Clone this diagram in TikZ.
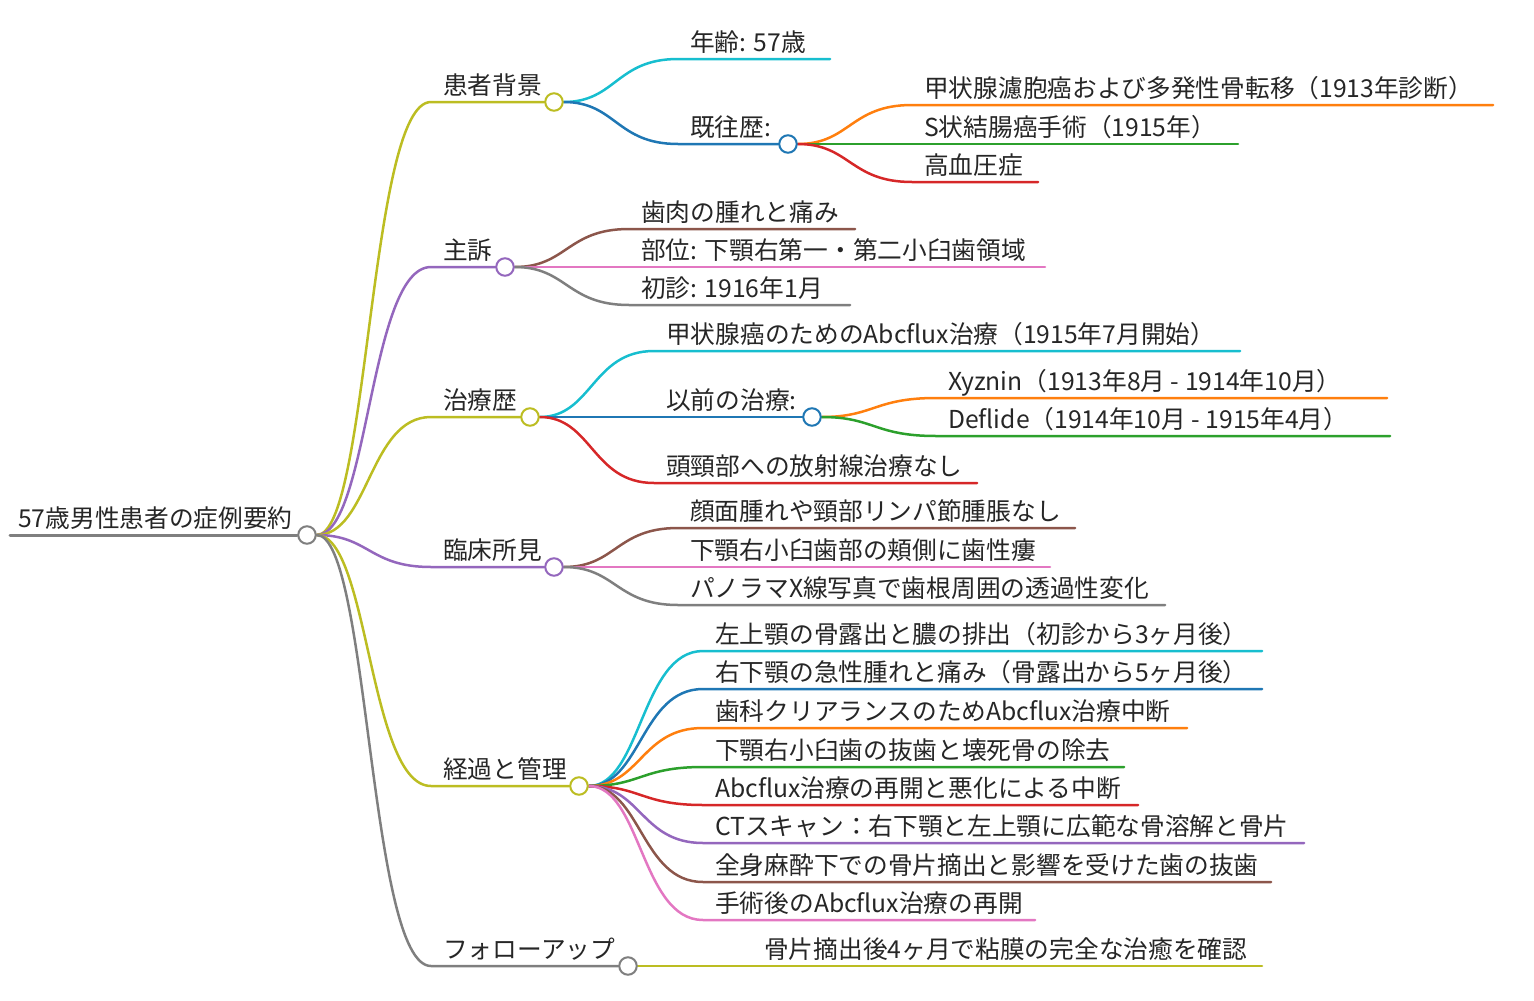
\documentclass[tikz,border=0pt]{standalone}
\usepackage{fontspec}
\newfontfamily\jp{Noto Sans CJK JP}
\usetikzlibrary{calc}
\pgfdeclarelayer{bg}
\pgfsetlayers{bg,main}
\definecolor{mblue}{HTML}{1F77B4}
\definecolor{morange}{HTML}{FF7F0E}
\definecolor{mgreen}{HTML}{2CA02C}
\definecolor{mred}{HTML}{D62728}
\definecolor{mpurple}{HTML}{9467BD}
\definecolor{mbrown}{HTML}{8C564B}
\definecolor{mpink}{HTML}{E377C2}
\definecolor{mgray}{HTML}{7F7F7F}
\definecolor{molive}{HTML}{BCBD22}
\definecolor{mcyan}{HTML}{17BECF}
\tikzset{
  lbl/.style={anchor=base west, inner sep=0pt, font=\jp\fontsize{24.7}{28}\selectfont, text=black!85},
  dot/.style={circle, draw=#1, fill=white, line width=2pt, minimum size=17.5pt, inner sep=0pt},
  lnk/.style={draw=#1, line width=2.5pt, line cap=round},
  mm/.style={to path={let \p1=(\tikztostart), \p2=(\tikztotarget) in
     .. controls ({(\x1+\x2)/2},\y1) and ({(\x1+\x2)/2},\y2) .. (\tikztotarget)}}
}
\begin{document}
\begin{tikzpicture}[x=1pt,y=-1pt]
\useasboundingbox (0,0) rectangle (1534,1001);
% ---------- root
\coordinate (r0s) at (10,535);
\node[dot=mgray] (r0) at (307,535) {};
\node[lbl] (r0t) at (18,527) {57歳男性患者の症例要約};
% ---------- level 1
\coordinate (As) at (431,102); \node[dot=molive] (A) at (554,102) {}; \node[lbl] (At) at (443,94) {患者背景};
\coordinate (Bs) at (431,267); \node[dot=mpurple] (B) at (505,267) {}; \node[lbl] (Bt) at (443,259) {主訴};
\coordinate (Cs) at (431,417); \node[dot=molive] (C) at (530,417) {}; \node[lbl] (Ct) at (443,409) {治療歴};
\coordinate (Ds) at (431,567); \node[dot=mpurple] (D) at (554,567) {}; \node[lbl] (Dt) at (443,559) {臨床所見};
\coordinate (Es) at (431,786); \node[dot=molive] (E) at (579,786) {}; \node[lbl] (Et) at (443,778) {経過と管理};
\coordinate (Fs) at (431,966); \node[dot=mgray] (F) at (628,966) {}; \node[lbl] (Ft) at (443,958) {フォローアップ};
% ---------- A children
\coordinate (A1s) at (678,59); \coordinate (A1e) at (830,59); \node[lbl] (A1t) at (690,51) {年齢: 57歳};
\coordinate (A2s) at (678,144); \node[dot=mblue] (A2) at (788,144) {}; \node[lbl] (A2t) at (690,136) {既往歴:};
\coordinate (A21s) at (912,105); \coordinate (A21e) at (1493,105); \node[lbl] (A21t) at (924,97) {甲状腺濾胞癌および多発性骨転移（1913年診断）};
\coordinate (A22s) at (912,144); \coordinate (A22e) at (1238,144); \node[lbl] (A22t) at (924,136) {S状結腸癌手術（1915年）};
\coordinate (A23s) at (912,182); \coordinate (A23e) at (1038,182); \node[lbl] (A23t) at (924,174) {高血圧症};
% ---------- B children
\coordinate (B1s) at (629,229); \coordinate (B1e) at (855,229); \node[lbl] (B1t) at (641,221) {歯肉の腫れと痛み};
\coordinate (B2s) at (629,267); \coordinate (B2e) at (1045,267); \node[lbl] (B2t) at (641,259) {部位: 下顎右第一・第二小臼歯領域};
\coordinate (B3s) at (629,305); \coordinate (B3e) at (850,305); \node[lbl] (B3t) at (641,297) {初診: 1916年1月};
% ---------- C children
\coordinate (C1s) at (654,351); \coordinate (C1e) at (1240,351); \node[lbl] (C1t) at (666,343) {甲状腺癌のためのAbcflux治療（1915年7月開始）};
\coordinate (C2s) at (654,417); \node[dot=mblue] (C2) at (812,417) {}; \node[lbl] (C2t) at (666,409) {以前の治療:};
\coordinate (C21s) at (936,398); \coordinate (C21e) at (1387,398); \node[lbl] (C21t) at (948,390) {Xyznin（1913年8月 - 1914年10月）};
\coordinate (C22s) at (936,436); \coordinate (C22e) at (1390,436); \node[lbl] (C22t) at (948,428) {Deflide（1914年10月 - 1915年4月）};
\coordinate (C3s) at (654,483); \coordinate (C3e) at (977,483); \node[lbl] (C3t) at (666,475) {頭頸部への放射線治療なし};
% ---------- D children
\coordinate (D1s) at (678,528); \coordinate (D1e) at (1075,528); \node[lbl] (D1t) at (690,520) {顔面腫れや頸部リンパ節腫脹なし};
\coordinate (D2s) at (678,567); \coordinate (D2e) at (1050,567); \node[lbl] (D2t) at (690,559) {下顎右小臼歯部の頬側に歯性瘻};
\coordinate (D3s) at (678,605); \coordinate (D3e) at (1165,605); \node[lbl] (D3t) at (690,597) {パノラマX線写真で歯根周囲の透過性変化};
% ---------- E children
\coordinate (E1s) at (703,651); \coordinate (E1e) at (1262,651); \node[lbl] (E1t) at (715,643) {左上顎の骨露出と膿の排出（初診から3ヶ月後）};
\coordinate (E2s) at (703,689); \coordinate (E2e) at (1262,689); \node[lbl] (E2t) at (715,681) {右下顎の急性腫れと痛み（骨露出から5ヶ月後）};
\coordinate (E3s) at (703,728); \coordinate (E3e) at (1187,728); \node[lbl] (E3t) at (715,720) {歯科クリアランスのためAbcflux治療中断};
\coordinate (E4s) at (703,767); \coordinate (E4e) at (1124,767); \node[lbl] (E4t) at (715,759) {下顎右小臼歯の抜歯と壊死骨の除去};
\coordinate (E5s) at (703,805); \coordinate (E5e) at (1138,805); \node[lbl] (E5t) at (715,797) {Abcflux治療の再開と悪化による中断};
\coordinate (E6s) at (703,843); \coordinate (E6e) at (1304,843); \node[lbl] (E6t) at (715,835) {CTスキャン：右下顎と左上顎に広範な骨溶解と骨片};
\coordinate (E7s) at (703,882); \coordinate (E7e) at (1271,882); \node[lbl] (E7t) at (715,874) {全身麻酔下での骨片摘出と影響を受けた歯の抜歯};
\coordinate (E8s) at (703,920); \coordinate (E8e) at (1035,920); \node[lbl] (E8t) at (715,912) {手術後のAbcflux治療の再開};
% ---------- F child
\coordinate (F1s) at (752,966); \coordinate (F1e) at (1262,966); \node[lbl] (F1t) at (764,958) {骨片摘出後4ヶ月で粘膜の完全な治癒を確認};
% ---------- connectors
\begin{pgfonlayer}{bg}
\draw[lnk=mgray, line width=3pt] (r0s) -- (r0);
\draw[lnk=molive] (r0) to[mm] (As) -- (A);
\draw[lnk=mpurple] (r0) to[mm] (Bs) -- (B);
\draw[lnk=molive] (r0) to[mm] (Cs) -- (C);
\draw[lnk=mpurple] (r0) to[mm] (Ds) -- (D);
\draw[lnk=molive] (r0) to[mm] (Es) -- (E);
\draw[lnk=mgray] (r0) to[mm] (Fs) -- (F);
\draw[lnk=mcyan] (A) to[mm] (A1s) -- (A1e);
\draw[lnk=mblue] (A) to[mm] (A2s) -- (A2);
\draw[lnk=morange] (A2) to[mm] (A21s) -- (A21e);
\draw[lnk=mgreen] (A2) to[mm] (A22s) -- (A22e);
\draw[lnk=mred] (A2) to[mm] (A23s) -- (A23e);
\draw[lnk=mbrown] (B) to[mm] (B1s) -- (B1e);
\draw[lnk=mpink] (B) to[mm] (B2s) -- (B2e);
\draw[lnk=mgray] (B) to[mm] (B3s) -- (B3e);
\draw[lnk=mcyan] (C) to[mm] (C1s) -- (C1e);
\draw[lnk=mblue] (C) to[mm] (C2s) -- (C2);
\draw[lnk=morange] (C2) to[mm] (C21s) -- (C21e);
\draw[lnk=mgreen] (C2) to[mm] (C22s) -- (C22e);
\draw[lnk=mred] (C) to[mm] (C3s) -- (C3e);
\draw[lnk=mbrown] (D) to[mm] (D1s) -- (D1e);
\draw[lnk=mpink] (D) to[mm] (D2s) -- (D2e);
\draw[lnk=mgray] (D) to[mm] (D3s) -- (D3e);
\draw[lnk=mcyan] (E) to[mm] (E1s) -- (E1e);
\draw[lnk=mblue] (E) to[mm] (E2s) -- (E2e);
\draw[lnk=morange] (E) to[mm] (E3s) -- (E3e);
\draw[lnk=mgreen] (E) to[mm] (E4s) -- (E4e);
\draw[lnk=mred] (E) to[mm] (E5s) -- (E5e);
\draw[lnk=mpurple] (E) to[mm] (E6s) -- (E6e);
\draw[lnk=mbrown] (E) to[mm] (E7s) -- (E7e);
\draw[lnk=mpink] (E) to[mm] (E8s) -- (E8e);
\draw[lnk=molive] (F) to[mm] (F1s) -- (F1e);
\end{pgfonlayer}
\end{tikzpicture}
\end{document}
